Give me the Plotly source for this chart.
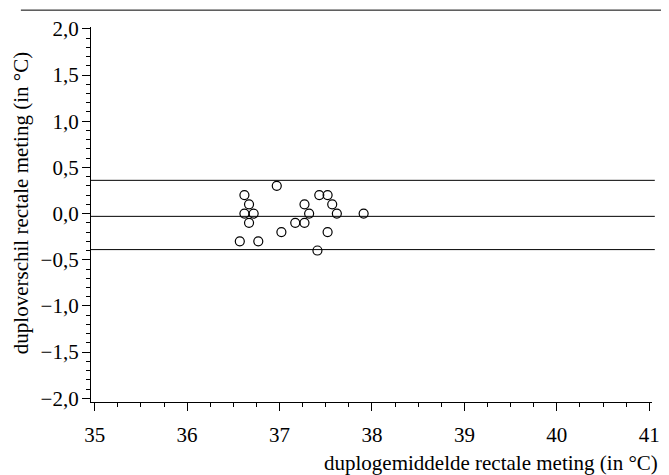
import plotly.graph_objects as go

# Data
mean_temp = [36.97, 36.62, 37.43, 37.52, 36.67, 37.27, 37.57, 36.62, 36.72, 37.32,
             37.62, 37.91, 36.67, 37.17, 37.27, 37.02, 37.52, 36.57, 36.77, 37.41]
diff_temp = [0.3, 0.2, 0.2, 0.2, 0.1, 0.1, 0.1, 0.0, 0.0, 0.0,
             0.0, 0.0, -0.1, -0.1, -0.1, -0.2, -0.2, -0.3, -0.3, -0.4]
mean_diff = -0.03
upper_limit = 0.36
lower_limit = -0.39

x_ticks = [35, 36, 37, 38, 39, 40, 41]
y_ticks = [2.0, 1.5, 1.0, 0.5, 0.0, -0.5, -1.0, -1.5, -2.0]
x_title = "duplogemiddelde rectale meting (in °C)"
y_title = "duploverschil rectale meting (in °C)"

FONT = "Liberation Serif"

fig = go.Figure()
fig.add_trace(go.Scatter(
    x=mean_temp, y=diff_temp, mode="markers",
    marker=dict(symbol="circle-open", size=9, color="black", line=dict(width=1.2, color="black")),
    showlegend=False, hoverinfo="x+y"))

for yv in [upper_limit, mean_diff, lower_limit]:
    fig.add_shape(type="line", xref="paper", x0=0, x1=1.005, yref="y", y0=yv, y1=yv,
                  line=dict(color="black", width=1))

# top page rule
fig.add_shape(type="line", xref="paper", yref="paper", x0=-0.125, x1=1.02, y0=1.045, y1=1.045,
              line=dict(color="black", width=1))

fig.update_layout(
    width=661, height=467,
    margin=dict(l=83, r=9, t=19, b=73),
    paper_bgcolor="white", plot_bgcolor="white",
    separators=",.",
    font=dict(family=FONT, size=21, color="black"),
    xaxis=dict(range=[34.96, 41.03], tickvals=x_ticks, ticks="outside", ticklen=8, tickwidth=1,
               tickcolor="black", showline=True, linecolor="black", linewidth=1.3,
               showgrid=False, zeroline=False, tickfont=dict(family=FONT, size=21, color="black"),
               minor=dict(dtick=0.25, ticks="outside", ticklen=4, tickcolor="black", showgrid=False),
               ticklabelstandoff=6),
    yaxis=dict(range=[-2.04, 2.02], tickvals=y_ticks, tickformat=".1f", ticks="outside", ticklen=8,
               tickwidth=1, tickcolor="black", showline=True, linecolor="black", linewidth=1.3,
               showgrid=False, zeroline=False, tickfont=dict(family=FONT, size=21, color="black"),
               minor=dict(dtick=0.1, ticks="outside", ticklen=4, tickcolor="black", showgrid=False),
               ticklabelstandoff=-1),
    annotations=[
        dict(text=x_title, xref="paper", yref="paper", x=1.015, y=-0.162, xanchor="right",
             yanchor="middle", showarrow=False, font=dict(family=FONT, size=21, color="black")),
        dict(text=y_title, xref="paper", yref="paper", x=-0.125, y=0.53, xanchor="center",
             yanchor="middle", textangle=-90, showarrow=False, font=dict(family=FONT, size=21, color="black")),
    ],
)

fig.write_html("out.html")
